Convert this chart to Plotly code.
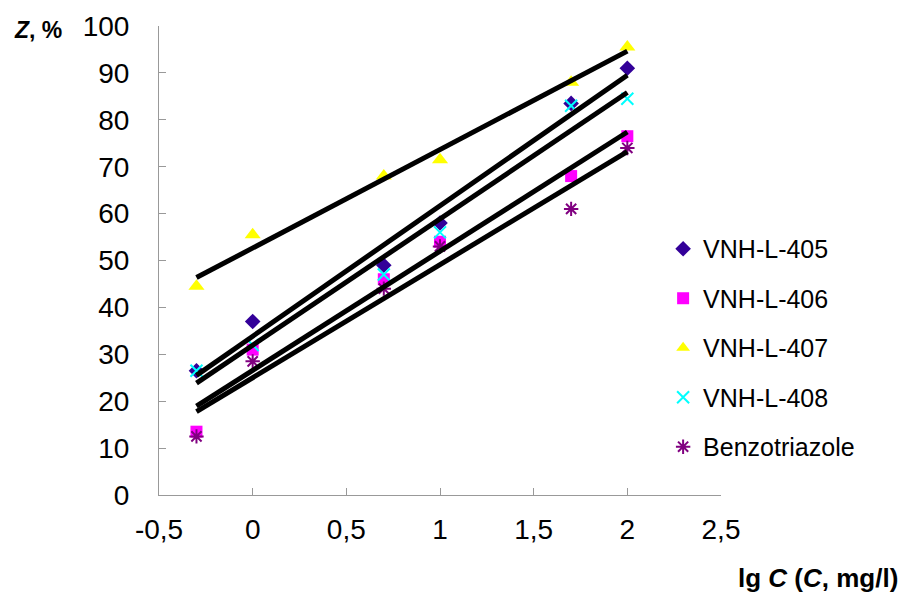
import numpy as np
import plotly.graph_objects as go

lg_c = [-0.3, 0, 0.7, 1, 1.7, 2]
series_names = ["VNH-L-405", "VNH-L-406", "VNH-L-407", "VNH-L-408", "Benzotriazole"]
z_405 = [26.5, 37, 49, 58, 83.5, 91]
z_406 = [13.5, 31, 46, 54, 68, 76.5]
z_407 = [44.5, 55.5, 68, 71.5, 88, 95.5]
z_408 = [26.5, 32, 47, 56, 83, 84.5]
z_btz = [12.5, 28.5, 44, 53, 61, 74]
x_ticks = [-0.5, 0, 0.5, 1, 1.5, 2, 2.5]
x_tick_labels = ["-0,5", "0", "0,5", "1", "1,5", "2", "2,5"]
y_ticks = list(range(0, 101, 10))

series_values = [z_405, z_406, z_407, z_408, z_btz]
styles = [
    dict(symbol="diamond", color="#330099", size=12),
    dict(symbol="square", color="#FF00FF", size=12),
    dict(symbol="triangle-up", color="#FFFF00", size=14),
    dict(symbol="x-thin-open", color="#00FFFF", size=12),
    dict(symbol="asterisk-open", color="#800080", size=12),
]

# figure geometry (page body has an 8px margin)
W, H = 898, 586
L, T, PW, PH = 151, 18, 562, 469
R, B = W - L - PW, H - T - PH

fig = go.Figure()

for name, vals, st in zip(series_names, series_values, styles):
    marker = dict(symbol=st["symbol"], color=st["color"], size=st["size"])
    if "open" in st["symbol"]:
        marker["line"] = dict(color=st["color"], width=2)
    fig.add_trace(go.Scatter(x=lg_c, y=vals, mode="markers", name=name,
                             legendgroup=name, marker=marker))

# linear trend lines, drawn over the markers
for vals in series_values:
    k, b = np.polyfit(lg_c, vals, 1)
    xs = [min(lg_c), max(lg_c)]
    fig.add_trace(go.Scatter(x=xs, y=[k * v + b for v in xs], mode="lines",
                             line=dict(color="black", width=5), showlegend=False,
                             hoverinfo="skip"))


def px_to_paper(X, Y):
    return (X - 8 - L) / PW, (T + PH - (Y - 8)) / PH


zx, zy = px_to_paper(12, 30)
tx, ty = px_to_paper(900, 578)

font_family = "Liberation Sans, Arial, sans-serif"
fig.update_layout(
    width=W, height=H,
    margin=dict(l=L, r=R, t=T, b=B, autoexpand=False),
    paper_bgcolor="white", plot_bgcolor="white",
    font=dict(family=font_family, size=28, color="black"),
    showlegend=True,
    legend=dict(x=0.897, y=0.5736, xanchor="left", yanchor="top",
                font=dict(size=25), tracegroupgap=14, itemsizing="constant",
                bgcolor="rgba(0,0,0,0)"),
    xaxis=dict(range=[-0.5, 2.5], tickvals=x_ticks, ticktext=x_tick_labels,
               showgrid=False, zeroline=False, showline=True, linecolor="#999999",
               linewidth=1, ticks="inside", ticklen=7, tickcolor="#999999",
               ticklabelstandoff=9, automargin=False),
    yaxis=dict(range=[0, 100], tickvals=y_ticks, showgrid=False, zeroline=False,
               showline=True, linecolor="#999999", linewidth=1, ticks="inside",
               ticklen=7, tickcolor="#999999", ticklabelstandoff=23,
               automargin=False),
    annotations=[
        dict(text="<b><i>Z</i>, %</b>", x=zx, y=zy, xref="paper", yref="paper",
             showarrow=False, font=dict(size=23), xanchor="left", yanchor="middle"),
        dict(text="<b>lg <i>C</i> (<i>C</i>, mg/l)</b>", x=tx, y=ty, xref="paper",
             yref="paper", showarrow=False, font=dict(size=26), xanchor="right",
             yanchor="middle"),
    ],
)

fig.write_html("out.html")
